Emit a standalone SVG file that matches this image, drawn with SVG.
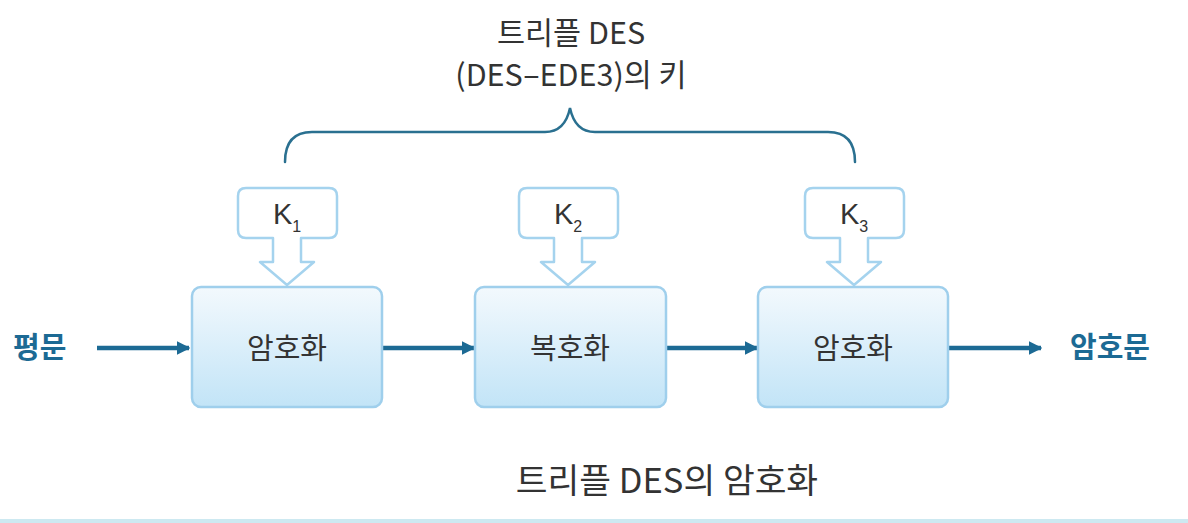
<svg xmlns="http://www.w3.org/2000/svg" xmlns:xlink="http://www.w3.org/1999/xlink" width="1188" height="523" viewBox="0 0 1188 523">
  <style>
    .t { font-family: "Noto Sans CJK KR", "Noto Sans", sans-serif; fill: #333333; }
    .lbl { font-size: 29px; text-anchor: middle; }
    .io { font-size: 29px; font-weight: bold; fill: #1c6a94; }
    .box { fill: url(#boxGrad); stroke: #9fcfec; stroke-width: 2.5; }
    .key { fill: #ffffff; stroke: #a5d3ee; stroke-width: 2.5; stroke-linejoin: round; }
    .ktxt { font-family: "Liberation Sans", "Noto Sans", sans-serif; fill: #333333; font-size: 29px; text-anchor: middle; }
    .arr { stroke: #1c6a94; stroke-width: 4.5; fill: none; marker-end: url(#ah); }
    .brace { stroke: #2a7090; stroke-width: 2.5; fill: none; stroke-linecap: round; }
  </style>
  <defs>
    <linearGradient id="boxGrad" x1="0" y1="0" x2="0" y2="1">
      <stop offset="0" stop-color="#f3f9fd"/>
      <stop offset="1" stop-color="#c2e4f7"/>
    </linearGradient>
    <marker id="ah" viewBox="0 0 10 10" refX="9" refY="5" markerWidth="3" markerHeight="3" orient="auto" markerUnits="strokeWidth">
      <path d="M0,0 L10,5 L0,10 Z" fill="#1c6a94"/>
    </marker>
    <path id="keyShape" d="M-41,188 H42 Q50,188 50,196 V230 Q50,238 42,238 H14 V262 H27 L0,285 L-27,262 H-14 V238 H-41 Q-49,238 -49,230 V196 Q-49,188 -41,188 Z"/>
  </defs>

  <rect x="0" y="0" width="1188" height="523" fill="#ffffff"/>
  <rect x="0" y="519" width="1188" height="4" fill="#cde9f1"/>

  <g id="title">
    <text class="t" x="571" y="44" font-size="30.5" text-anchor="middle">트리플 DES</text>
    <text class="t" x="571" y="86" font-size="30.5" text-anchor="middle">(DES–EDE3)의 키</text>
  </g>

  <g id="brace">
    <path class="brace" d="M285,162 Q285,132 312,132 H545 Q565,132 570,108 Q575,132 595,132 H828 Q855,132 855,162"/>
  </g>

  <g id="connectors">
    <line class="arr" x1="97" y1="348" x2="189" y2="348"/>
    <line class="arr" x1="382" y1="348" x2="474" y2="348"/>
    <line class="arr" x1="666" y1="348" x2="757" y2="348"/>
    <line class="arr" x1="948" y1="348" x2="1041" y2="348"/>
  </g>

  <g id="key1">
    <use xlink:href="#keyShape" class="key" transform="translate(287,0)"/>
    <text class="ktxt" x="287" y="224">K<tspan font-size="16" dy="8">1</tspan></text>
  </g>
  <g id="key2">
    <use xlink:href="#keyShape" class="key" transform="translate(568,0)"/>
    <text class="ktxt" x="568" y="224">K<tspan font-size="16" dy="8">2</tspan></text>
  </g>
  <g id="key3">
    <use xlink:href="#keyShape" class="key" transform="translate(854,0)"/>
    <text class="ktxt" x="854" y="224">K<tspan font-size="16" dy="8">3</tspan></text>
  </g>

  <g id="enc1">
    <rect class="box" x="192" y="287" width="190" height="120" rx="9"/>
    <text class="t lbl" x="287" y="359">암호화</text>
  </g>
  <g id="dec">
    <rect class="box" x="475" y="287" width="191" height="120" rx="9"/>
    <text class="t lbl" x="570" y="359">복호화</text>
  </g>
  <g id="enc2">
    <rect class="box" x="758" y="287" width="190" height="120" rx="9"/>
    <text class="t lbl" x="853" y="359">암호화</text>
  </g>

  <g id="plaintext">
    <text class="t io" x="13" y="358">평문</text>
  </g>
  <g id="ciphertext">
    <text class="t io" x="1070" y="358">암호문</text>
  </g>

  <g id="caption">
    <text class="t" x="667" y="493" font-size="34.5" text-anchor="middle">트리플 DES의 암호화</text>
  </g>
</svg>
